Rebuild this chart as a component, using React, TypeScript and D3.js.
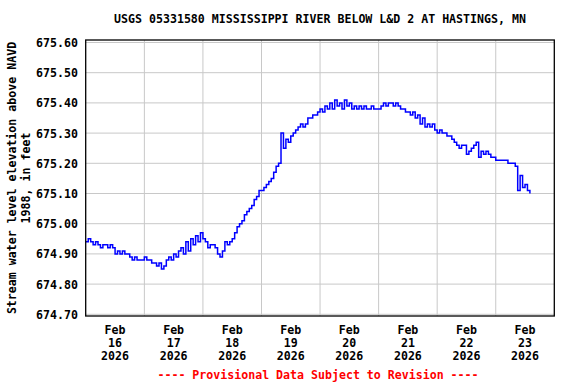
import React from "react";
import * as d3 from "d3";

// hourly gage readings starting Feb 16 2026 00:00 (ft above NAVD 1988)
const startTime = Date.UTC(2026, 1, 16, 0);
const hourlyLevels = [
  // Feb 16
  674.94, 674.95, 674.94, 674.93, 674.94, 674.93, 674.92, 674.93, 674.93, 674.92, 674.93, 674.92,
  674.90, 674.91, 674.90, 674.91, 674.90, 674.90, 674.89, 674.88, 674.89, 674.88, 674.88, 674.88,
  // Feb 17
  674.89, 674.88, 674.88, 674.87, 674.87, 674.86, 674.87, 674.85, 674.86, 674.88, 674.89, 674.88,
  674.90, 674.89, 674.91, 674.92, 674.90, 674.94, 674.91, 674.95, 674.93, 674.96, 674.94, 674.97,
  // Feb 18
  674.95, 674.94, 674.92, 674.93, 674.93, 674.92, 674.90, 674.89, 674.91, 674.94, 674.93, 674.94,
  674.95, 674.97, 674.99, 675.0, 675.01, 675.03, 675.04, 675.05, 675.06, 675.08, 675.09, 675.11,
  // Feb 19
  675.11, 675.12, 675.13, 675.14, 675.15, 675.17, 675.19, 675.2, 675.3, 675.25, 675.28, 675.27,
  675.29, 675.3, 675.31, 675.32, 675.33, 675.32, 675.33, 675.35, 675.35, 675.36, 675.36, 675.37,
  // Feb 20
  675.38, 675.37, 675.39, 675.38, 675.4, 675.38, 675.41, 675.39, 675.4, 675.38, 675.41, 675.39,
  675.4, 675.38, 675.39, 675.38, 675.39, 675.38, 675.39, 675.38, 675.38, 675.39, 675.38, 675.38,
  // Feb 21
  675.38, 675.39, 675.4, 675.39, 675.4, 675.4, 675.39, 675.4, 675.39, 675.38, 675.38, 675.37,
  675.37, 675.36, 675.37, 675.35, 675.36, 675.33, 675.35, 675.32, 675.33, 675.32, 675.33, 675.31,
  // Feb 22
  675.3, 675.31, 675.3, 675.3, 675.29, 675.29, 675.28, 675.27, 675.26, 675.25, 675.26, 675.26,
  675.23, 675.24, 675.25, 675.26, 675.27, 675.22, 675.24, 675.23, 675.24, 675.23, 675.22, 675.22,
  // Feb 23
  675.21, 675.21, 675.21, 675.21, 675.21, 675.2, 675.2, 675.2, 675.19, 675.11, 675.16, 675.12,
  675.13, 675.11, 675.1,
];

const yTicks = [674.7, 674.8, 674.9, 675.0, 675.1, 675.2, 675.3, 675.4, 675.5, 675.6];
const dayLabels = ["16", "17", "18", "19", "20", "21", "22", "23"];

const title = "USGS 05331580 MISSISSIPPI RIVER BELOW L&D 2 AT HASTINGS, MN";
const yLabel1 = "Stream water level elevation above NAVD";
const yLabel2 = "1988, in feet";
const footer = "---- Provisional Data Subject to Revision ----";

const width = 576;
const height = 384;
const font = "'DejaVu Sans Mono', monospace";

export default function App() {
  const x = d3
    .scaleUtc()
    .domain([new Date(Date.UTC(2026, 1, 16)), new Date(Date.UTC(2026, 1, 24))])
    .range([85.8, 554.3]);
  const y = d3.scaleLinear().domain([674.7, 675.6]).range([314.3, 42.5]);

  const points = hourlyLevels.map((v, i) => ({
    t: new Date(startTime + i * 3600 * 1000),
    v,
  }));

  const line = d3
    .line<{ t: Date; v: number }>()
    .x((d) => x(d.t))
    .y((d) => y(d.v))
    .curve(d3.curveStepAfter);

  const days = dayLabels.map((_, i) => new Date(Date.UTC(2026, 1, 16 + i)));
  const gridDays = d3.range(1, 8).map((i) => new Date(Date.UTC(2026, 1, 16 + i)));

  const midY = (40 + 316) / 2;

  return (
    <div style={{ position: "absolute", left: 0, top: 0 }}>
      <svg width={width} height={height} style={{ display: "block", background: "#fff" }}>
        <g fontFamily={font} fontWeight="bold" fontSize={11.6} fill="#000">
          <text x={320} y={19} textAnchor="middle" dominantBaseline="middle">
            {title}
          </text>

          {/* grid */}
          {yTicks.map((t) => (
            <line key={t} x1={86} x2={554} y1={y(t)} y2={y(t)} stroke="#c8c8c8" strokeWidth={1} />
          ))}
          {gridDays.map((d) => (
            <line key={+d} x1={x(d)} x2={x(d)} y1={40} y2={316} stroke="#c8c8c8" strokeWidth={1} />
          ))}

          <path d={line(points) || ""} fill="none" stroke="#0000ff" strokeWidth={1.5} />

          <rect x={85.7} y={40} width={468.6} height={276} fill="none" stroke="#000" strokeWidth={1.3} />

          {/* y tick labels */}
          {yTicks.map((t) => (
            <text key={t} x={78} y={y(t) + 1} textAnchor="end" dominantBaseline="middle">
              {t.toFixed(2)}
            </text>
          ))}

          {/* x tick labels centred at midday */}
          {days.map((d, i) => {
            const cx = x(d3.utcHour.offset(d, 12));
            return (
              <g key={i} textAnchor="middle">
                <text x={cx} y={330} dominantBaseline="middle">Feb</text>
                <text x={cx} y={343} dominantBaseline="middle">{dayLabels[i]}</text>
                <text x={cx} y={356} dominantBaseline="middle">2026</text>
              </g>
            );
          })}

          <g transform={`translate(12, ${midY}) rotate(-90)`}>
            <text x={0} y={0} textAnchor="middle" dominantBaseline="middle">{yLabel1}</text>
          </g>
          <g transform={`translate(26, ${midY}) rotate(-90)`}>
            <text x={0} y={0} textAnchor="middle" dominantBaseline="middle">{yLabel2}</text>
          </g>

          <text x={318} y={375} textAnchor="middle" dominantBaseline="middle" fill="#ff0000">
            {footer}
          </text>
        </g>
      </svg>
    </div>
  );
}
